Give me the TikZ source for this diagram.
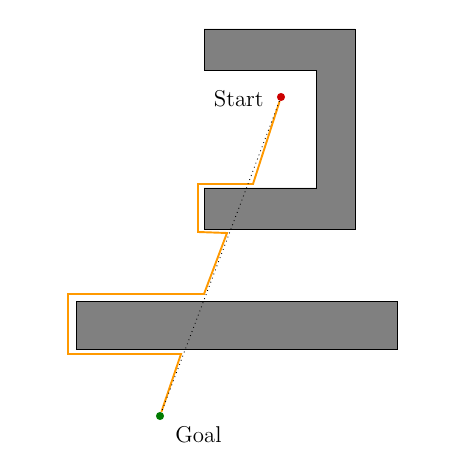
\documentclass[tikz,border=0pt]{standalone}
\usepackage{xcolor}
\definecolor{colObstacle}{HTML}{808080}
\definecolor{colPath}{HTML}{FF9900}
\definecolor{colStart}{HTML}{CC0000}
\definecolor{colGoal}{HTML}{007A00}
\usepackage{tikz}
\usetikzlibrary{positioning}

\begin{document}
\begin{tikzpicture}[x=0.02cm, y=-0.02cm,
        obstacle/.style={fill=colObstacle, draw=black, line width=0.5pt},
        waypoint/.style={circle, inner sep=0pt, minimum size=4.6pt},
        caption/.style={font=\fontsize{13}{15}\selectfont, inner sep=0pt},
        tour/.style={colPath, line width=1.1pt},
        sightline/.style={black, dotted, line width=0.5pt}]
        \useasboundingbox (0,0) rectangle (470,462);

        % === Ostacoli ===
        \draw[obstacle] (204,29) -- (355,29) -- (355,229) -- (204,229)
            -- (204,188) -- (316,188) -- (316,70) -- (204,70) -- cycle;
        \draw[obstacle] (76,301) rectangle (397,349);

        % === Start / Goal ===
        \node[waypoint, fill=colStart] (start) at (281,97) {};
        \node[waypoint, fill=colGoal]  (goal)  at (160,416) {};
        \node[caption, anchor=base east] (startlabel) at (264,107) {Start};
        \node[caption, anchor=base west] (goallabel)  at (175,442) {Goal};

        % Percorso aggirante
        \draw[tour] (start) -- (253,184) -- (198,184) -- (198,232) -- (227,233)
            -- (204,294) -- (68,294) -- (68,354) -- (181,354) -- (goal);
        % Linea diretta
        \draw[sightline] (start) -- (goal);
    \end{tikzpicture}
\end{document}
